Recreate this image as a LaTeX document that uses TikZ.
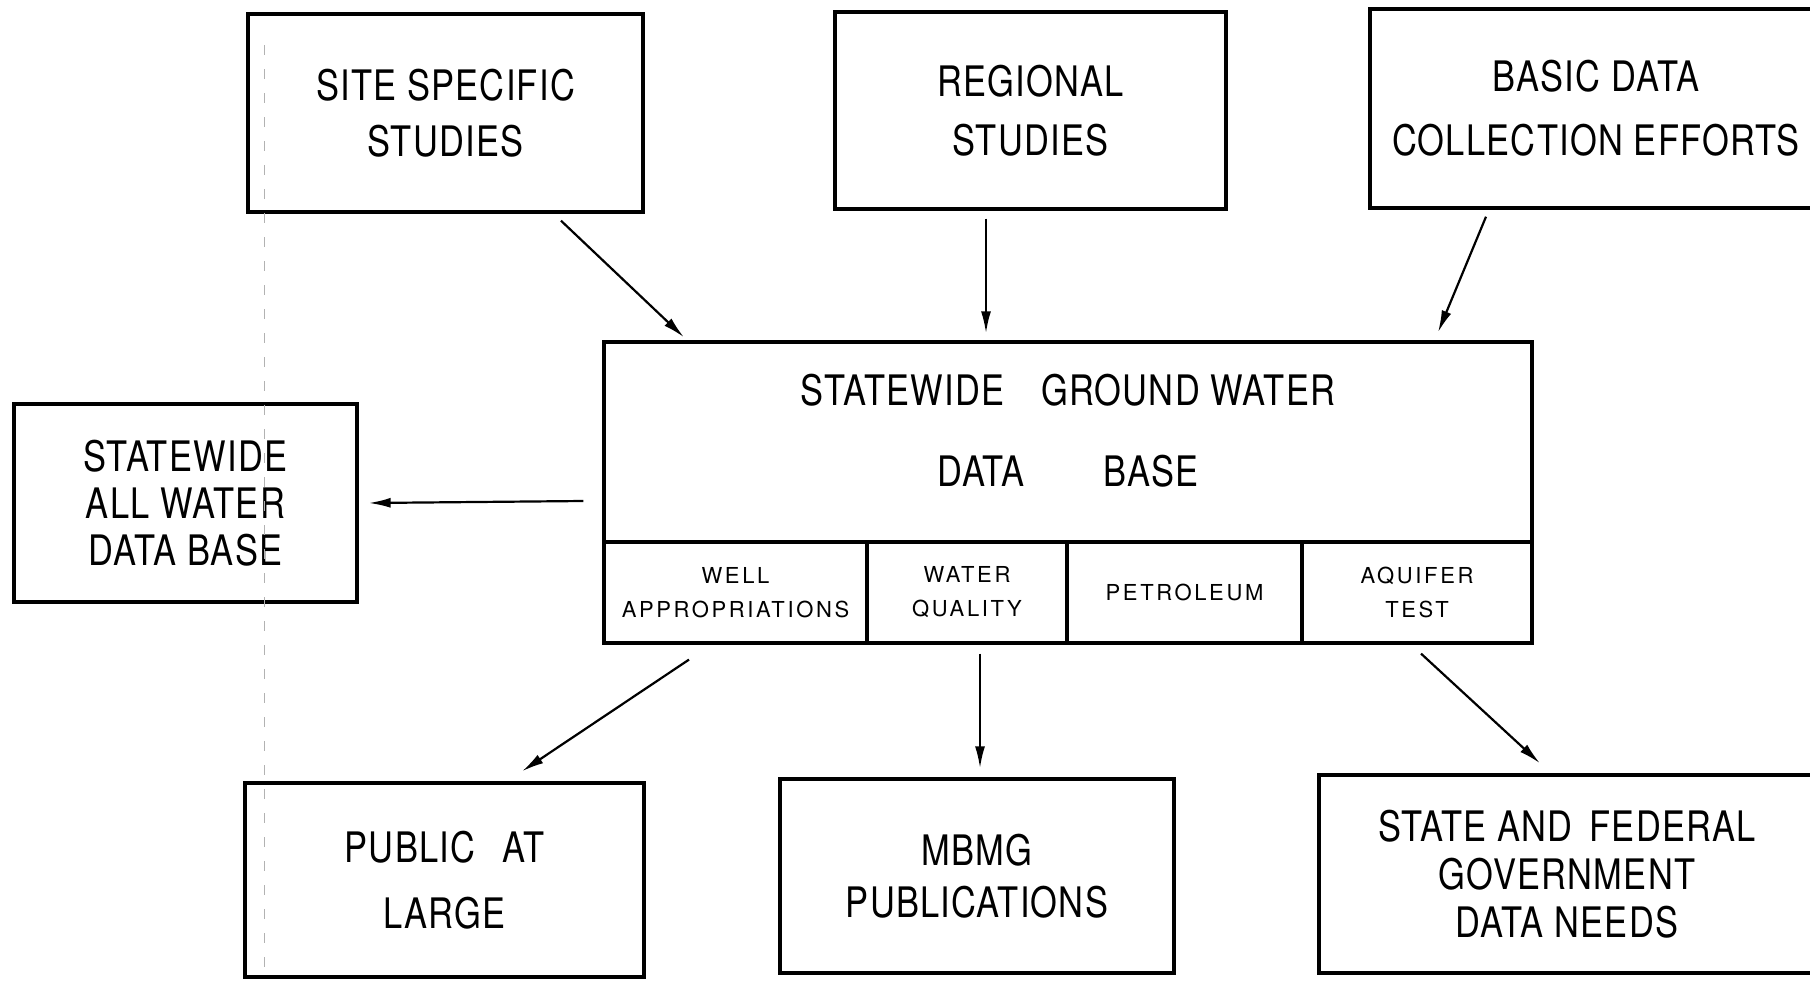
\documentclass[tikz,border=0pt]{standalone}
\usepackage{fontspec}
\setmainfont{TeX Gyre Heros}[FakeStretch=0.82,LetterSpace=3]
\newfontfamily\tabfont{TeX Gyre Heros}[LetterSpace=12]
\usetikzlibrary{arrows.meta}

\begin{document}
\begin{tikzpicture}[x=0.5pt,y=-0.5pt,
  box/.style={draw=black, line width=1.7pt, fill=white, inner sep=0pt,
    align=center, font=\fontsize{21}{28}\selectfont},
  tab/.style={draw=black, line width=1.6pt, inner sep=0pt, minimum height=50.5pt,
    align=center, font=\tabfont\fontsize{11}{17}\selectfont},
  label/.style={inner sep=0pt, align=center, font=\fontsize{21}{40.5}\selectfont},
  arr/.style={line width=1.1pt, -{Latex[length=11pt,width=5pt]}}]
\clip (0,0) rectangle (1810,980);
\fill[white] (0,0) rectangle (1810,980);

% source boxes
\node[box, minimum width=197.5pt, minimum height=99pt] (site) at (445.5,113)
  {SITE SPECIFIC\\STUDIES};
\node[box, minimum width=195.5pt, minimum height=98.5pt,
  font=\fontsize{21}{29.5}\selectfont] (regional) at (1030.5,110.5)
  {REGIONAL\\STUDIES};
\node[box, minimum width=226pt, minimum height=99.5pt,
  font=\fontsize{21}{32}\selectfont] (basic) at (1596,108.5)
  {BASIC DATA\\COLLECTION EFFORTS};

% central data base: title panel and a row of four tabs
\node[box, minimum width=464pt, minimum height=100pt] (ctop) at (1068,442) {};
\node[label] (ctitle) at (1068,431)
  {STATEWIDE\hspace{13pt} GROUND WATER\\DATA\hspace{34pt} BASE};
\node[tab, minimum width=131.5pt] (well) at (735.5,592.5) {WELL\\APPROPRIATIONS};
\node[tab, minimum width=100pt] (wq) at (967,592.5) {WATER\\QUALITY};
\node[tab, minimum width=117.5pt] (pet) at (1184.5,592.5) {PETROLEUM};
\node[tab, minimum width=115pt] (aq) at (1417,592.5) {AQUIFER\\TEST};

% side and output boxes
\node[box, minimum width=171.5pt, minimum height=99pt,
  font=\fontsize{21}{23.5}\selectfont] (allwater) at (185.5,503)
  {STATEWIDE\\ALL WATER\\DATA BASE};
\node[box, minimum width=199.5pt, minimum height=97pt,
  font=\fontsize{21}{33}\selectfont] (public) at (444.5,880)
  {PUBLIC\hspace{8pt} AT\\LARGE};
\node[box, minimum width=197pt, minimum height=97pt,
  font=\fontsize{21}{26}\selectfont] (mbmg) at (977,876)
  {MBMG\\PUBLICATIONS};
\node[box, minimum width=248pt, minimum height=99pt,
  font=\fontsize{21}{24}\selectfont] (statefed) at (1567,874)
  {STATE AND\hspace{3pt} FEDERAL\\GOVERNMENT\\DATA NEEDS};

% faint scan rule at the left, running over the boxes
\draw[black!30, line width=0.4pt, dash pattern=on 5pt off 7pt] (264,45) -- (264,980);

% connectors
\draw[arr] ([shift={(115.5,7)}]site.south) -- ([shift={(-384,-3)}]ctop.north);
\draw[arr] ([shift={(-44.5,8)}]regional.south) -- ([shift={(-82,-7)}]ctop.north);
\draw[arr] ([shift={(-110,7)}]basic.south) -- ([shift={(370,-8)}]ctop.north);
\draw[arr] ([shift={(-19,59)}]ctop.west) -- ([shift={(10,0)}]allwater.east);
\draw[arr] ([shift={(-46.5,15)}]well.south) -- ([shift={(77.5,-10)}]public.north);
\draw[arr] ([shift={(13,9)}]wq.south) -- ([shift={(3,-9)}]mbmg.north);
\draw[arr] ([shift={(4,9)}]aq.south) -- ([shift={(-27,-10)}]statefed.north);
\end{tikzpicture}
\end{document}
